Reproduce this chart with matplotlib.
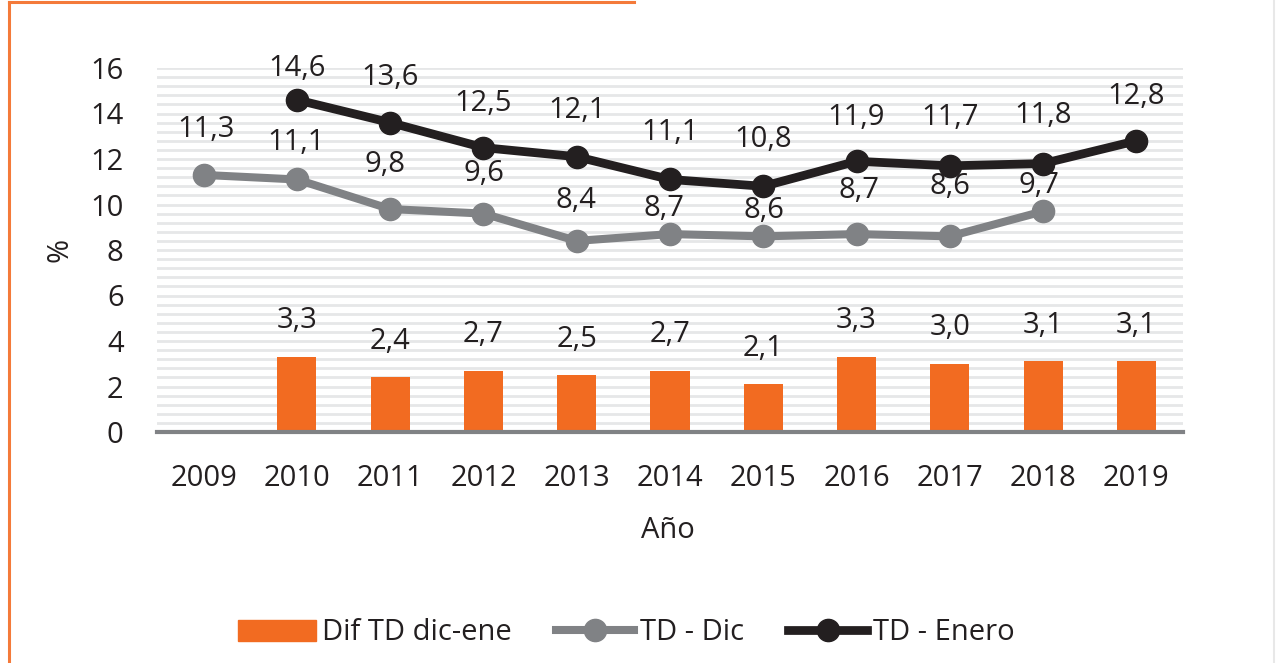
import numpy as np
import matplotlib
matplotlib.use('Agg')
import matplotlib.pyplot as plt
from matplotlib.lines import Line2D
from matplotlib.patches import Patch

years = ['2009', '2010', '2011', '2012', '2013', '2014', '2015', '2016', '2017', '2018', '2019']
dif_td = [np.nan, 3.3, 2.4, 2.7, 2.5, 2.7, 2.1, 3.3, 3.0, 3.1, 3.1]
td_dic = [11.3, 11.1, 9.8, 9.6, 8.4, 8.7, 8.6, 8.7, 8.6, 9.7, np.nan]
td_enero = [np.nan, 14.6, 13.6, 12.5, 12.1, 11.1, 10.8, 11.9, 11.7, 11.8, 12.8]

# label offsets in pixels
ene_dy = [0, 31, 45, 44, 46, 47, 47, 44, 48, 48, 44]
dic_dy = [45, 37, 45, 40, 40, 26, 26, 44, 50, 26, 0]
dic_dx = [2, -1, -5, 0, -1, -6, 1, 2, 0, -4, 0]

ORANGE = '#F26B21'
GRAY = '#808285'
BLACK = '#231F20'
plt.rcParams['font.family'] = ['Open Sans', 'DejaVu Sans']
plt.rcParams['text.color'] = BLACK
FS = 21

def fmt(v):
    return f"{v:.1f}".replace('.', ',')

fig = plt.figure(figsize=(12.76, 6.63), dpi=100)
ax = fig.add_axes([157/1276, 1-432/663, (1183-157)/1276, (432-68)/663])
x = np.arange(len(years))

ax.bar(x, dif_td, width=0.42, color=ORANGE, zorder=2)
ax.plot(x, td_dic, color=GRAY, lw=5.8, marker='o', ms=16, zorder=3)
ax.plot(x, td_enero, color=BLACK, lw=6.3, marker='o', ms=16, zorder=4)

for i in range(len(years)):
    if not np.isnan(dif_td[i]):
        ax.annotate(fmt(dif_td[i]), (x[i], dif_td[i]), xytext=(0, 36), textcoords='offset pixels',
                    ha='center', va='center', fontsize=FS)
    if not np.isnan(td_dic[i]):
        ax.annotate(fmt(td_dic[i]), (x[i], td_dic[i]), xytext=(dic_dx[i], dic_dy[i]), textcoords='offset pixels',
                    ha='center', va='center', fontsize=FS, zorder=5)
    if not np.isnan(td_enero[i]):
        ax.annotate(fmt(td_enero[i]), (x[i], td_enero[i]), xytext=(0, ene_dy[i]), textcoords='offset pixels',
                    ha='center', va='center', fontsize=FS, zorder=5)

ax.set_xlim(-0.5, len(years)-0.5)
ax.set_ylim(0, 16)
ax.set_yticks(np.arange(0, 17, 2))
ax.set_yticks(np.arange(0, 16.01, 0.4), minor=True)
ax.grid(which='both', axis='y', color='#E6E7E8', lw=2.0, zorder=0)
ax.set_axisbelow(True)
ax.set_xticks(x)
ax.set_xticklabels(years)
ax.tick_params(axis='both', which='both', length=0, labelsize=FS, colors=BLACK)
ax.tick_params(axis='y', pad=24)
ax.tick_params(axis='x', pad=23)
for s in ['top', 'right', 'left']:
    ax.spines[s].set_visible(False)
ax.spines['bottom'].set_color(GRAY)
ax.spines['bottom'].set_linewidth(3)
ax.spines['bottom'].set_zorder(3)

fig.text(60/1276, 1-250/663, '%', rotation=90, ha='center', va='center', fontsize=FS)
fig.text(668/1276, 1-530/663, 'Año', ha='center', va='center', fontsize=FS)

handles = [Patch(color=ORANGE),
           Line2D([], [], color=GRAY, lw=5.8, marker='o', ms=16),
           Line2D([], [], color=BLACK, lw=6.3, marker='o', ms=16)]
fig.legend(handles, ['Dif TD dic-ene', 'TD - Dic', 'TD - Enero'], loc='center',
           bbox_to_anchor=(626/1276, 1-633/663), ncol=3, frameon=False, fontsize=FS,
           handlelength=2.7, handletextpad=0.2, columnspacing=1.5, handleheight=0.7)

# orange frame pieces and faint right border
fig.add_artist(Line2D([9/1276, 9/1276], [0, 1-2/663], color='#F47A3A', lw=2.2, transform=fig.transFigure))
fig.add_artist(Line2D([9/1276, 634/1276], [1-2/663, 1-2/663], color='#F47A3A', lw=2.2, transform=fig.transFigure))
fig.add_artist(Line2D([1274/1276, 1274/1276], [0, 1], color='#E8E8E8', lw=1.5, transform=fig.transFigure))

fig.savefig('out.png', dpi=100)
